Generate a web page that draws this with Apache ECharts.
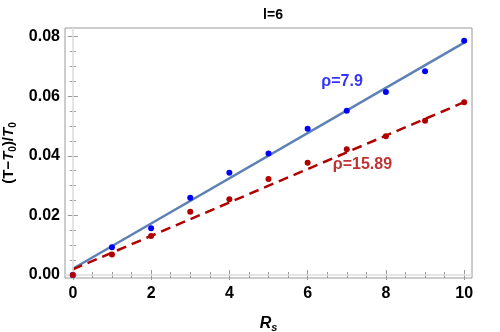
<!DOCTYPE html>
<html>
<head>
<meta charset="utf-8">
<script src="https://cdn.jsdelivr.net/npm/echarts@6/dist/echarts.min.js"></script>
<style>
  html, body { margin: 0; padding: 0; background: #fff; }
  #main { width: 500px; height: 332px; }
</style>
</head>
<body>
<div id="main"></div>
<script>
// data
const rs = [0, 1, 2, 3, 4, 5, 6, 7, 8, 9, 10];
const rho79 = [0.0000, 0.0093, 0.0157, 0.0259, 0.0343, 0.0408, 0.0491, 0.0551, 0.0614, 0.0684, 0.0786];
const rho1589 = [0.0000, 0.0069, 0.0131, 0.0212, 0.0254, 0.0322, 0.0377, 0.0422, 0.0466, 0.0518, 0.0580];
// fitted lines (end points at Rs=0 and Rs=10)
const fitX = [0, 10];
const fit79 = [0.0021, 0.0780];
const fit1589 = [0.0019, 0.0580];
// label positions in data units
const label79 = [6.88, 0.0648, 'ρ=7.9'];
const label1589 = [7.40, 0.0369, 'ρ=15.89'];
// ticks
const xMajor = [0, 2, 4, 6, 8, 10];
const yMajor = [0, 0.02, 0.04, 0.06, 0.08];
const xMinor = [];
for (let v = 0; v <= 10.001; v += 0.5) xMinor.push(+v.toFixed(2));
const yMinor = [];
for (let v = 0; v <= 0.0801; v += 0.005) yMinor.push(+v.toFixed(3));

const pairs = (xs, ys) => xs.map((x, i) => [x, ys[i]]);

const frameColor = '#9a9a9a';
const fontFam = '"Liberation Sans", Arial, sans-serif';

function xAx(pos, ticks, len, labels) {
  return {
    type: 'value', position: pos, min: -0.2, max: 10.2,
    axisLine: { show: false },
    splitLine: { show: false },
    axisTick: { show: true, inside: true, length: len, customValues: ticks, lineStyle: { color: frameColor, width: 1 } },
    axisLabel: labels ? {
      show: true, customValues: xMajor, color: '#000', fontSize: 16, fontWeight: 'bold',
      fontFamily: fontFam, margin: 8
    } : { show: false }
  };
}
function yAx(pos, ticks, len, labels) {
  return {
    type: 'value', position: pos, min: -0.001, max: 0.0829,
    axisLine: { show: false },
    splitLine: { show: false },
    axisTick: { show: true, inside: true, length: len, customValues: ticks, lineStyle: { color: frameColor, width: 1 } },
    axisLabel: labels ? {
      show: true, customValues: yMajor, color: '#000', fontSize: 16, fontWeight: 'bold',
      fontFamily: fontFam, margin: 5, formatter: v => v.toFixed(2)
    } : { show: false }
  };
}

const xAxes = [xAx('bottom', xMajor, 5, true), xAx('bottom', xMinor, 3, false), xAx('top', xMajor, 5, false), xAx('top', xMinor, 3, false)];
xAxes[0].name = '{i|R}{s|s}';
xAxes[0].nameLocation = 'middle';
xAxes[0].nameGap = 36;
xAxes[0].nameTextStyle = {
  rich: {
    i: { fontSize: 16, fontWeight: 'bold', fontStyle: 'italic', fontFamily: fontFam, color: '#000' },
    s: { fontSize: 11, fontWeight: 'bold', fontStyle: 'italic', fontFamily: fontFam, color: '#000', verticalAlign: 'bottom', padding: [8, 0, 0, 0] }
  }
};
const yAxes = [yAx('left', yMajor, 5, true), yAx('left', yMinor, 3, false), yAx('right', yMajor, 5, false), yAx('right', yMinor, 3, false)];
yAxes[0].name = '{n|(T−}{i|T}{s|0}{n|)/}{i|T}{s|0}';
yAxes[0].nameLocation = 'middle';
yAxes[0].nameGap = 46;
yAxes[0].nameTextStyle = {
  rich: {
    n: { fontSize: 15, fontWeight: 'bold', fontFamily: fontFam, color: '#000' },
    i: { fontSize: 15, fontWeight: 'bold', fontStyle: 'italic', fontFamily: fontFam, color: '#000' },
    s: { fontSize: 10, fontWeight: 'bold', fontFamily: fontFam, color: '#000', padding: [8, 0, 0, 0] }
  }
};

const chart = echarts.init(document.getElementById('main'));
chart.setOption({
  animation: false,
  backgroundColor: '#fff',
  title: {
    text: 'l=6', left: 268, top: 3, textAlign: 'center',
    textStyle: { fontSize: 14, fontWeight: 'bold', fontFamily: fontFam, color: '#000' }
  },
  grid: {
    left: 65, right: 28, top: 28, bottom: 54, outerBoundsMode: 'none', containLabel: false,
    show: true, borderColor: frameColor, borderWidth: 1, backgroundColor: 'transparent'
  },
  xAxis: xAxes,
  yAxis: yAxes,
  series: [
    {
      type: 'line', data: [], silent: true, z: 1,
      markLine: {
        silent: true, symbol: 'none', label: { show: false },
        lineStyle: { color: '#dedede', width: 1.6, type: 'solid' },
        data: [{ xAxis: 0 }, { yAxis: 0 }]
      }
    },
    {
      type: 'line', data: pairs(fitX, fit79), showSymbol: false, z: 3,
      lineStyle: { color: '#5e81b5', width: 2.5 }
    },
    {
      type: 'line', data: pairs(fitX, fit1589), showSymbol: false, z: 3,
      lineStyle: { color: '#b00000', width: 2.5, type: [10, 6] }
    },
    {
      type: 'scatter', data: pairs(rs, rho79), symbolSize: 6, z: 4,
      itemStyle: { color: '#0000ff', opacity: 1 }
    },
    {
      type: 'scatter', data: pairs(rs, rho1589), symbolSize: 6, z: 5,
      itemStyle: { color: '#b00000', opacity: 1 }
    },
    {
      type: 'scatter', data: [label79], symbolSize: 0, z: 6,
      label: { show: true, position: 'inside', formatter: p => p.value[2], color: '#0000ff', fontSize: 16, fontWeight: 'bold', fontFamily: fontFam }
    },
    {
      type: 'scatter', data: [label1589], symbolSize: 0, z: 6,
      label: { show: true, position: 'inside', formatter: p => p.value[2], color: '#b00000', fontSize: 16, fontWeight: 'bold', fontFamily: fontFam }
    }
  ]
});
</script>
</body>
</html>
